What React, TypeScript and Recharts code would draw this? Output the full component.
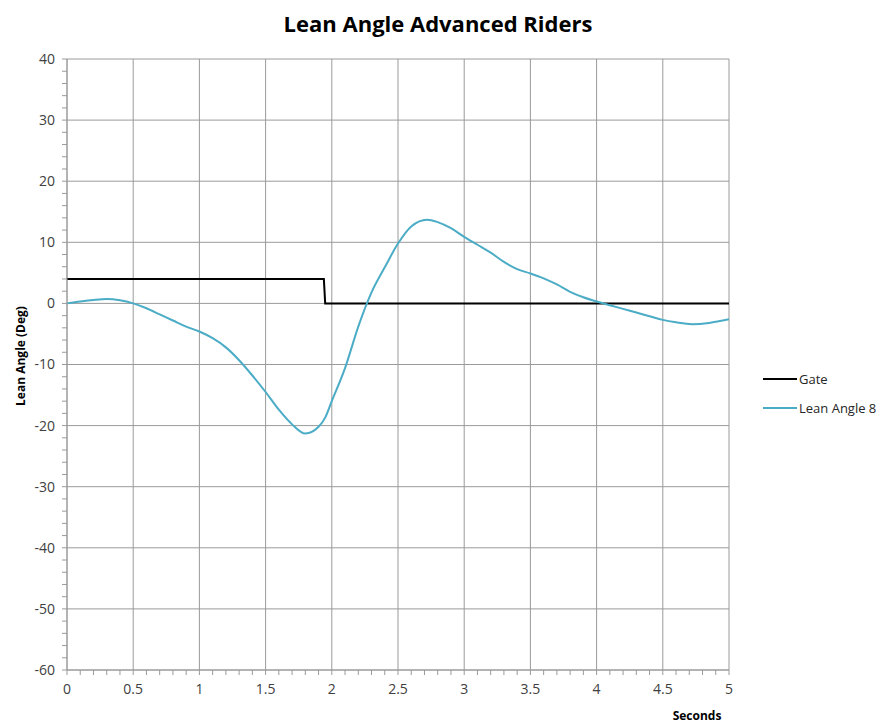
import { CartesianGrid, Legend, Line, LineChart, XAxis, YAxis } from "recharts";

// Lean Angle 8 trace (seconds, degrees)
const leanSeconds = [
  0, 0.1, 0.2, 0.3, 0.4, 0.5, 0.6, 0.7, 0.8, 0.9, 1.0, 1.1, 1.2, 1.3, 1.4, 1.5, 1.6, 1.7, 1.8, 1.9,
  1.95, 2.0, 2.1, 2.2, 2.3, 2.4, 2.5, 2.6, 2.72, 2.8, 2.9, 3.0, 3.1, 3.2, 3.3, 3.4, 3.5, 3.6, 3.7,
  3.8, 3.9, 4.0, 4.1, 4.2, 4.3, 4.4, 4.5, 4.6, 4.72, 4.85, 5.0,
];
const leanAngle = [
  0, 0.3, 0.55, 0.7, 0.5, 0, -0.8, -1.8, -2.8, -3.8, -4.6, -5.7, -7.2, -9.3, -11.8, -14.5, -17.4,
  -19.8, -21.3, -20.2, -18.7, -16.0, -10.6, -3.8, 1.8, 5.9, 9.8, 12.6, 13.7, 13.3, 12.3, 10.9, 9.6,
  8.3, 6.8, 5.6, 4.9, 4.1, 3.1, 1.9, 1.0, 0.3, -0.3, -0.9, -1.5, -2.1, -2.7, -3.1, -3.4, -3.2, -2.6,
];

// Gate signal
const gateSeconds = [0, 1.94, 1.95, 5];
const gateValues = [4, 4, 0, 0];

// labelled ticks (and grid lines)
const xTicks = [0, 0.5, 1, 1.5, 2, 2.5, 3, 3.5, 4, 4.5, 5];
const yTicks = [-60, -50, -40, -30, -20, -10, 0, 10, 20, 30, 40];
// minor tick marks
const xMinorTicks = Array.from({ length: 51 }, (_, i) => i / 10);
const yMinorTicks = Array.from({ length: 51 }, (_, i) => -60 + i * 2);

const leanData = leanSeconds.map((s, i) => ({ s, value: leanAngle[i] }));
const gateData = gateSeconds.map((s, i) => ({ s, value: gateValues[i] }));

const FONT = "'Open Sans', sans-serif";
const GRID = "#9a9a9a";
const TEXT = "#404040";

const series = [
  { name: "Gate", color: "#000000" },
  { name: "Lean Angle 8", color: "#4bacc6" },
];

const LegendBox = () => (
  <div style={{ fontFamily: FONT, fontSize: 13, color: "#262626" }}>
    {series.map((s) => (
      <div key={s.name} style={{ display: "flex", alignItems: "center", height: 29 }}>
        <div style={{ width: 34, height: 2, background: s.color, marginRight: 2 }} />
        <span>{s.name}</span>
      </div>
    ))}
  </div>
);

const isOn = (v: number, list: number[]) => list.some((t) => Math.abs(t - v) < 1e-6);

const XTick = (props: any) => {
  const { x, y, payload } = props;
  if (!isOn(payload.value, xTicks)) return <g />;
  return (
    <text x={x} y={y} dy="0.71em" textAnchor="middle" fill={TEXT} fontSize={14} fontFamily={FONT}>
      {payload.value}
    </text>
  );
};

const YTick = (props: any) => {
  const { x, y, payload } = props;
  if (!isOn(payload.value, yTicks)) return <g />;
  return (
    <text x={x} y={y} dy="0.355em" textAnchor="end" fill={TEXT} fontSize={14} fontFamily={FONT}>
      {payload.value}
    </text>
  );
};

export default function App() {
  return (
    <div style={{ position: "absolute", left: 0, top: 0, width: 886, height: 725, background: "#fff" }}>
      <div
        style={{
          position: "absolute",
          left: 0,
          width: 876,
          top: 8,
          textAlign: "center",
          fontFamily: FONT,
          fontWeight: 700,
          fontSize: 22,
          color: "#000",
        }}
      >
        Lean Angle Advanced Riders
      </div>
      <div
        style={{
          position: "absolute",
          left: 20,
          top: 356,
          transform: "translate(-50%, -50%) rotate(-90deg)",
          whiteSpace: "nowrap",
          fontFamily: FONT,
          fontWeight: 700,
          fontSize: 12,
          color: "#000",
        }}
      >
        Lean Angle (Deg)
      </div>
      <div
        style={{
          position: "absolute",
          left: 697,
          top: 715,
          transform: "translate(-50%, -50%)",
          fontFamily: FONT,
          fontWeight: 700,
          fontSize: 12,
          color: "#000",
        }}
      >
        Seconds
      </div>
      <LineChart width={886} height={725} margin={{ top: 59, right: 157, bottom: 0, left: 0 }}>
        {/* grid follows hidden major-tick axes */}
        <CartesianGrid stroke={GRID} xAxisId="grid" yAxisId="grid" />
        <XAxis
          xAxisId="grid"
          dataKey="s"
          type="number"
          domain={[0, 5]}
          ticks={xTicks}
          interval={0}
          hide
          allowDataOverflow
        />
        <YAxis
          yAxisId="grid"
          type="number"
          domain={[-60, 40]}
          ticks={yTicks}
          interval={0}
          hide
          allowDataOverflow
        />
        <XAxis
          dataKey="s"
          type="number"
          domain={[0, 5]}
          ticks={xMinorTicks}
          height={55}
          tickSize={5}
          tickMargin={9}
          stroke={GRID}
          tick={XTick}
          interval={0}
          allowDataOverflow
        />
        <YAxis
          type="number"
          domain={[-60, 40]}
          ticks={yMinorTicks}
          width={67}
          tickSize={5}
          tickMargin={7}
          stroke={GRID}
          tick={YTick}
          interval={0}
          allowDataOverflow
        />
        <Line
          data={gateData}
          dataKey="value"
          name="Gate"
          type="linear"
          stroke="#000000"
          strokeWidth={2}
          dot={false}
          isAnimationActive={false}
        />
        <Line
          data={leanData}
          dataKey="value"
          name="Lean Angle 8"
          type="monotone"
          stroke="#4bacc6"
          strokeWidth={2}
          dot={false}
          isAnimationActive={false}
        />
        <Legend
          layout="vertical"
          align="center"
          verticalAlign="middle"
          content={<LegendBox />}
          wrapperStyle={{ left: 763, top: 364, width: 120, height: 60 }}
        />
      </LineChart>
    </div>
  );
}
